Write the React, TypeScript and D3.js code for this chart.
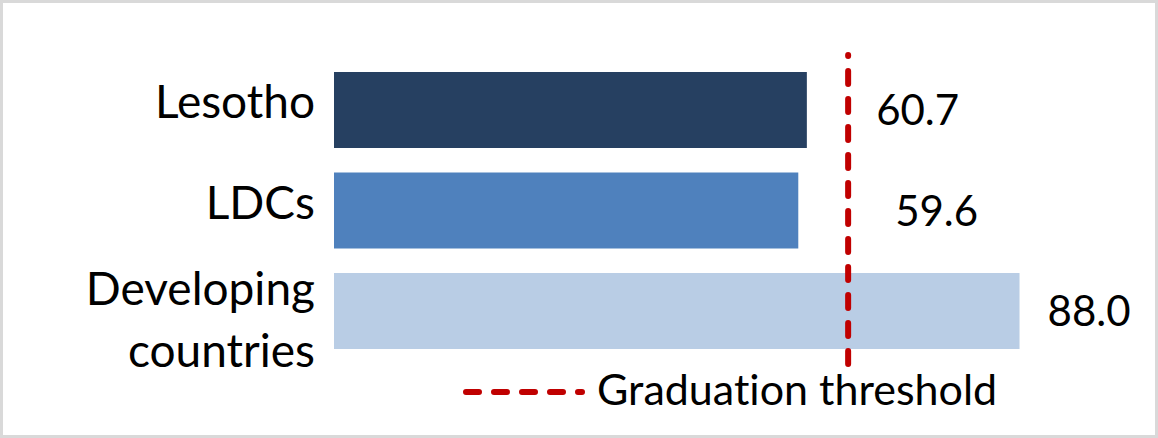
import React from "react";
import * as d3 from "d3";

const categories: string[][] = [["Lesotho"], ["LDCs"], ["Developing", "countries"]];
const values: number[] = [60.7, 59.6, 88.0];
const threshold: number = 66;
const legendLabel = "Graduation threshold";

const barColors = ["#264061", "#4F81BD", "#B9CDE5"];
const labelNudge = [0, 19, 0];
const W = 1158;
const H = 438;
const FONT = "Lato, 'Open Sans', sans-serif";

export default function App() {
  const x = d3.scaleLinear().domain([0, 100]).range([334, 334 + 779]);
  const keys = categories.map((c) => c.join(" "));
  const y = d3.scaleBand<string>().domain(keys).range([47.5, 373.5]).padding(0.2438);
  const tx = x(threshold);
  const lineTop = 55;
  const lineBottom = 364;

  return (
    <svg
      width={W}
      height={H}
      style={{ position: "absolute", left: 0, top: 0, fontVariantLigatures: "none", fontFeatureSettings: "'liga' 0, 'clig' 0" }}
      fontFamily={FONT}
    >
      <rect x={0} y={0} width={W} height={H} fill="#fff" />
      <rect x={1.5} y={1.5} width={W - 3} height={H - 3} fill="none" stroke="#D9D9D9" strokeWidth={3} />
      {values.map((v, i) => {
        const k = keys[i];
        const y0 = y(k)!;
        const bw = y.bandwidth();
        const cy = y0 + bw / 2;
        const lines = categories[i];
        const end = x(v);
        const lx = Math.max(end, tx) + 28 + labelNudge[i];
        return (
          <g key={k}>
            <rect x={x(0)} y={y0} width={end - x(0)} height={bw} fill={barColors[i]} />
            <text x={315} y={lines.length === 1 ? cy + 8 : cy - 6} textAnchor="end" fontSize={46} fill="#000">
              {lines.map((t, j) => (
                <tspan key={j} x={315} dy={j === 0 ? 0 : 62}>
                  {t}
                </tspan>
              ))}
            </text>
            <text x={lx} y={cy + 15} fontSize={42} fill="#000">
              {d3.format(".1f")(v)}
            </text>
          </g>
        );
      })}
      <path
        d={`M${tx},${lineBottom}L${tx},${lineTop}`}
        stroke="#C00000"
        strokeWidth={6}
        strokeDasharray="13 15"
        strokeLinecap="round"
        fill="none"
      />
      <line x1={466} x2={582} y1={392} y2={392} stroke="#C00000" strokeWidth={6} strokeDasharray="13 15" strokeLinecap="round" />
      <text x={597} y={405} fontSize={43} fill="#000">
        {legendLabel}
      </text>
    </svg>
  );
}
